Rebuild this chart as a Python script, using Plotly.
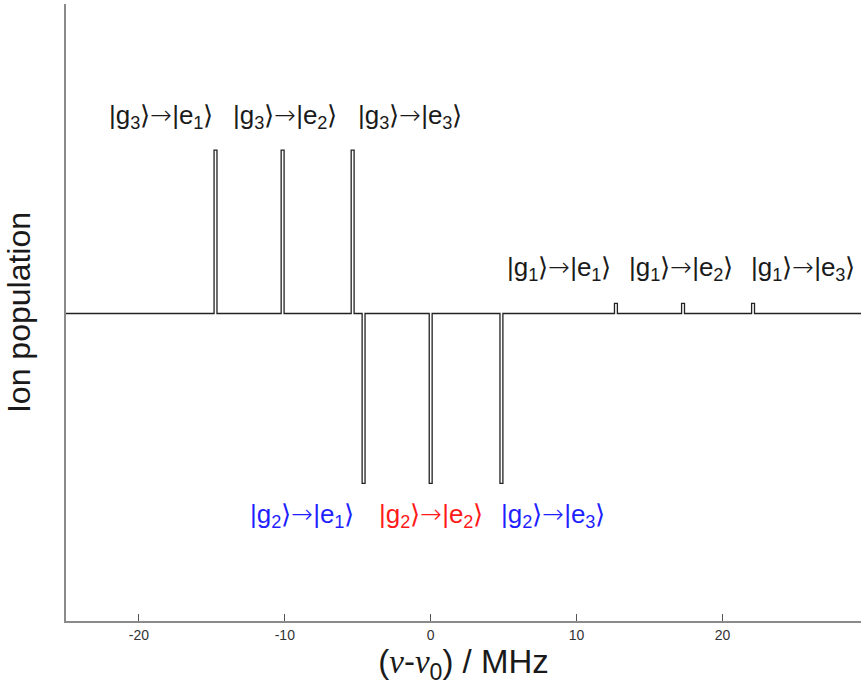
import plotly.graph_objects as go

# Transition line positions (MHz, relative to nu_0) and signed population change
up_centers = [-14.75, -10.15, -5.35]      # |g3> -> |e1,2,3>
up_heights = [1.0, 1.0, 1.0]
down_centers = [-4.6, 0.0, 4.85]          # |g2> -> |e1,2,3>
down_heights = [-1.04, -1.04, -1.04]
small_centers = [12.7, 17.3, 22.1]        # |g1> -> |e1,2,3>
small_heights = [0.062, 0.062, 0.062]

x_range = [-25, 29.5]
y_range = [-1.882, 1.894]
x_ticks = [-20, -10, 0, 10, 20]

ARROW = "<span style=\"font-family:DejaVu Sans;font-weight:200\">→</span>"


def ket_label(g, e):
    return f"|g<sub>{g}</sub>⟩{ARROW}|e<sub>{e}</sub>⟩"


# Transition labels: text, x, y, colour
top_labels = [ket_label(3, 1), ket_label(3, 2), ket_label(3, 3)]
top_x = [-18.49, -10.01, -1.39]
top_y = 1.207
bottom_labels = [ket_label(2, 1), ket_label(2, 2), ket_label(2, 3)]
bottom_x = [-8.84, 0.05, 8.4]
bottom_y = -1.235
bottom_colors = ["#1f1fff", "#ff1a1a", "#1f1fff"]
right_labels = [ket_label(1, 1), ket_label(1, 2), ket_label(1, 3)]
right_x = [8.80, 17.15, 25.5]
right_y = 0.277

half_width = 0.1  # half width of each narrow line (MHz)

# Build the stepped spectrum trace from the line list
lines = sorted(zip(up_centers + down_centers + small_centers,
                   up_heights + down_heights + small_heights))
xs = [x_range[0]]
ys = [0.0]
for c, h in lines:
    xs += [c - half_width, c - half_width, c + half_width, c + half_width]
    ys += [0.0, h, h, 0.0]
xs.append(x_range[1])
ys.append(0.0)

fig = go.Figure()
fig.add_trace(go.Scatter(x=xs, y=ys, mode="lines",
                         line=dict(color="#222222", width=1.3),
                         hoverinfo="skip", showlegend=False))

font_main = "Liberation Sans, Arial, sans-serif"
label_size = 26
annotations = []
for t, x in zip(top_labels, top_x):
    annotations.append(dict(x=x, y=top_y, text=t, showarrow=False,
                            font=dict(size=label_size, color="#1a1a1a", family=font_main)))
for t, x, c in zip(bottom_labels, bottom_x, bottom_colors):
    annotations.append(dict(x=x, y=bottom_y, text=t, showarrow=False,
                            font=dict(size=label_size, color=c, family=font_main)))
for t, x in zip(right_labels, right_x):
    annotations.append(dict(x=x, y=right_y, text=t, showarrow=False,
                            font=dict(size=label_size, color="#1a1a1a", family=font_main)))

fig.update_layout(
    width=861, height=698,
    margin=dict(l=66, r=0, t=4, b=77),
    paper_bgcolor="white", plot_bgcolor="white",
    annotations=annotations,
    xaxis=dict(range=x_range, tickvals=x_ticks, ticktext=[str(v) for v in x_ticks],
               showgrid=False, zeroline=False, showline=True,
               linecolor="#8a8a8a", linewidth=2,
               ticks="inside", ticklen=7, tickwidth=1.2, tickcolor="#555555",
               tickfont=dict(size=14, color="#333333", family=font_main),
               title=dict(text="(<span style=\"font-family:Liberation Serif\"><i>ν</i></span>-"
                               "<span style=\"font-family:Liberation Serif\"><i>ν</i></span>"
                               "<sub>0</sub>) / MHz",
                          font=dict(size=33, color="#1a1a1a", family=font_main),
                          standoff=4)),
    yaxis=dict(range=y_range, showticklabels=False, ticks="",
               showgrid=False, zeroline=False, showline=True,
               linecolor="#8a8a8a", linewidth=2,
               title=dict(text="Ion population",
                          font=dict(size=32, color="#1a1a1a", family=font_main),
                          standoff=24)),
)

fig.write_html("out.html")
